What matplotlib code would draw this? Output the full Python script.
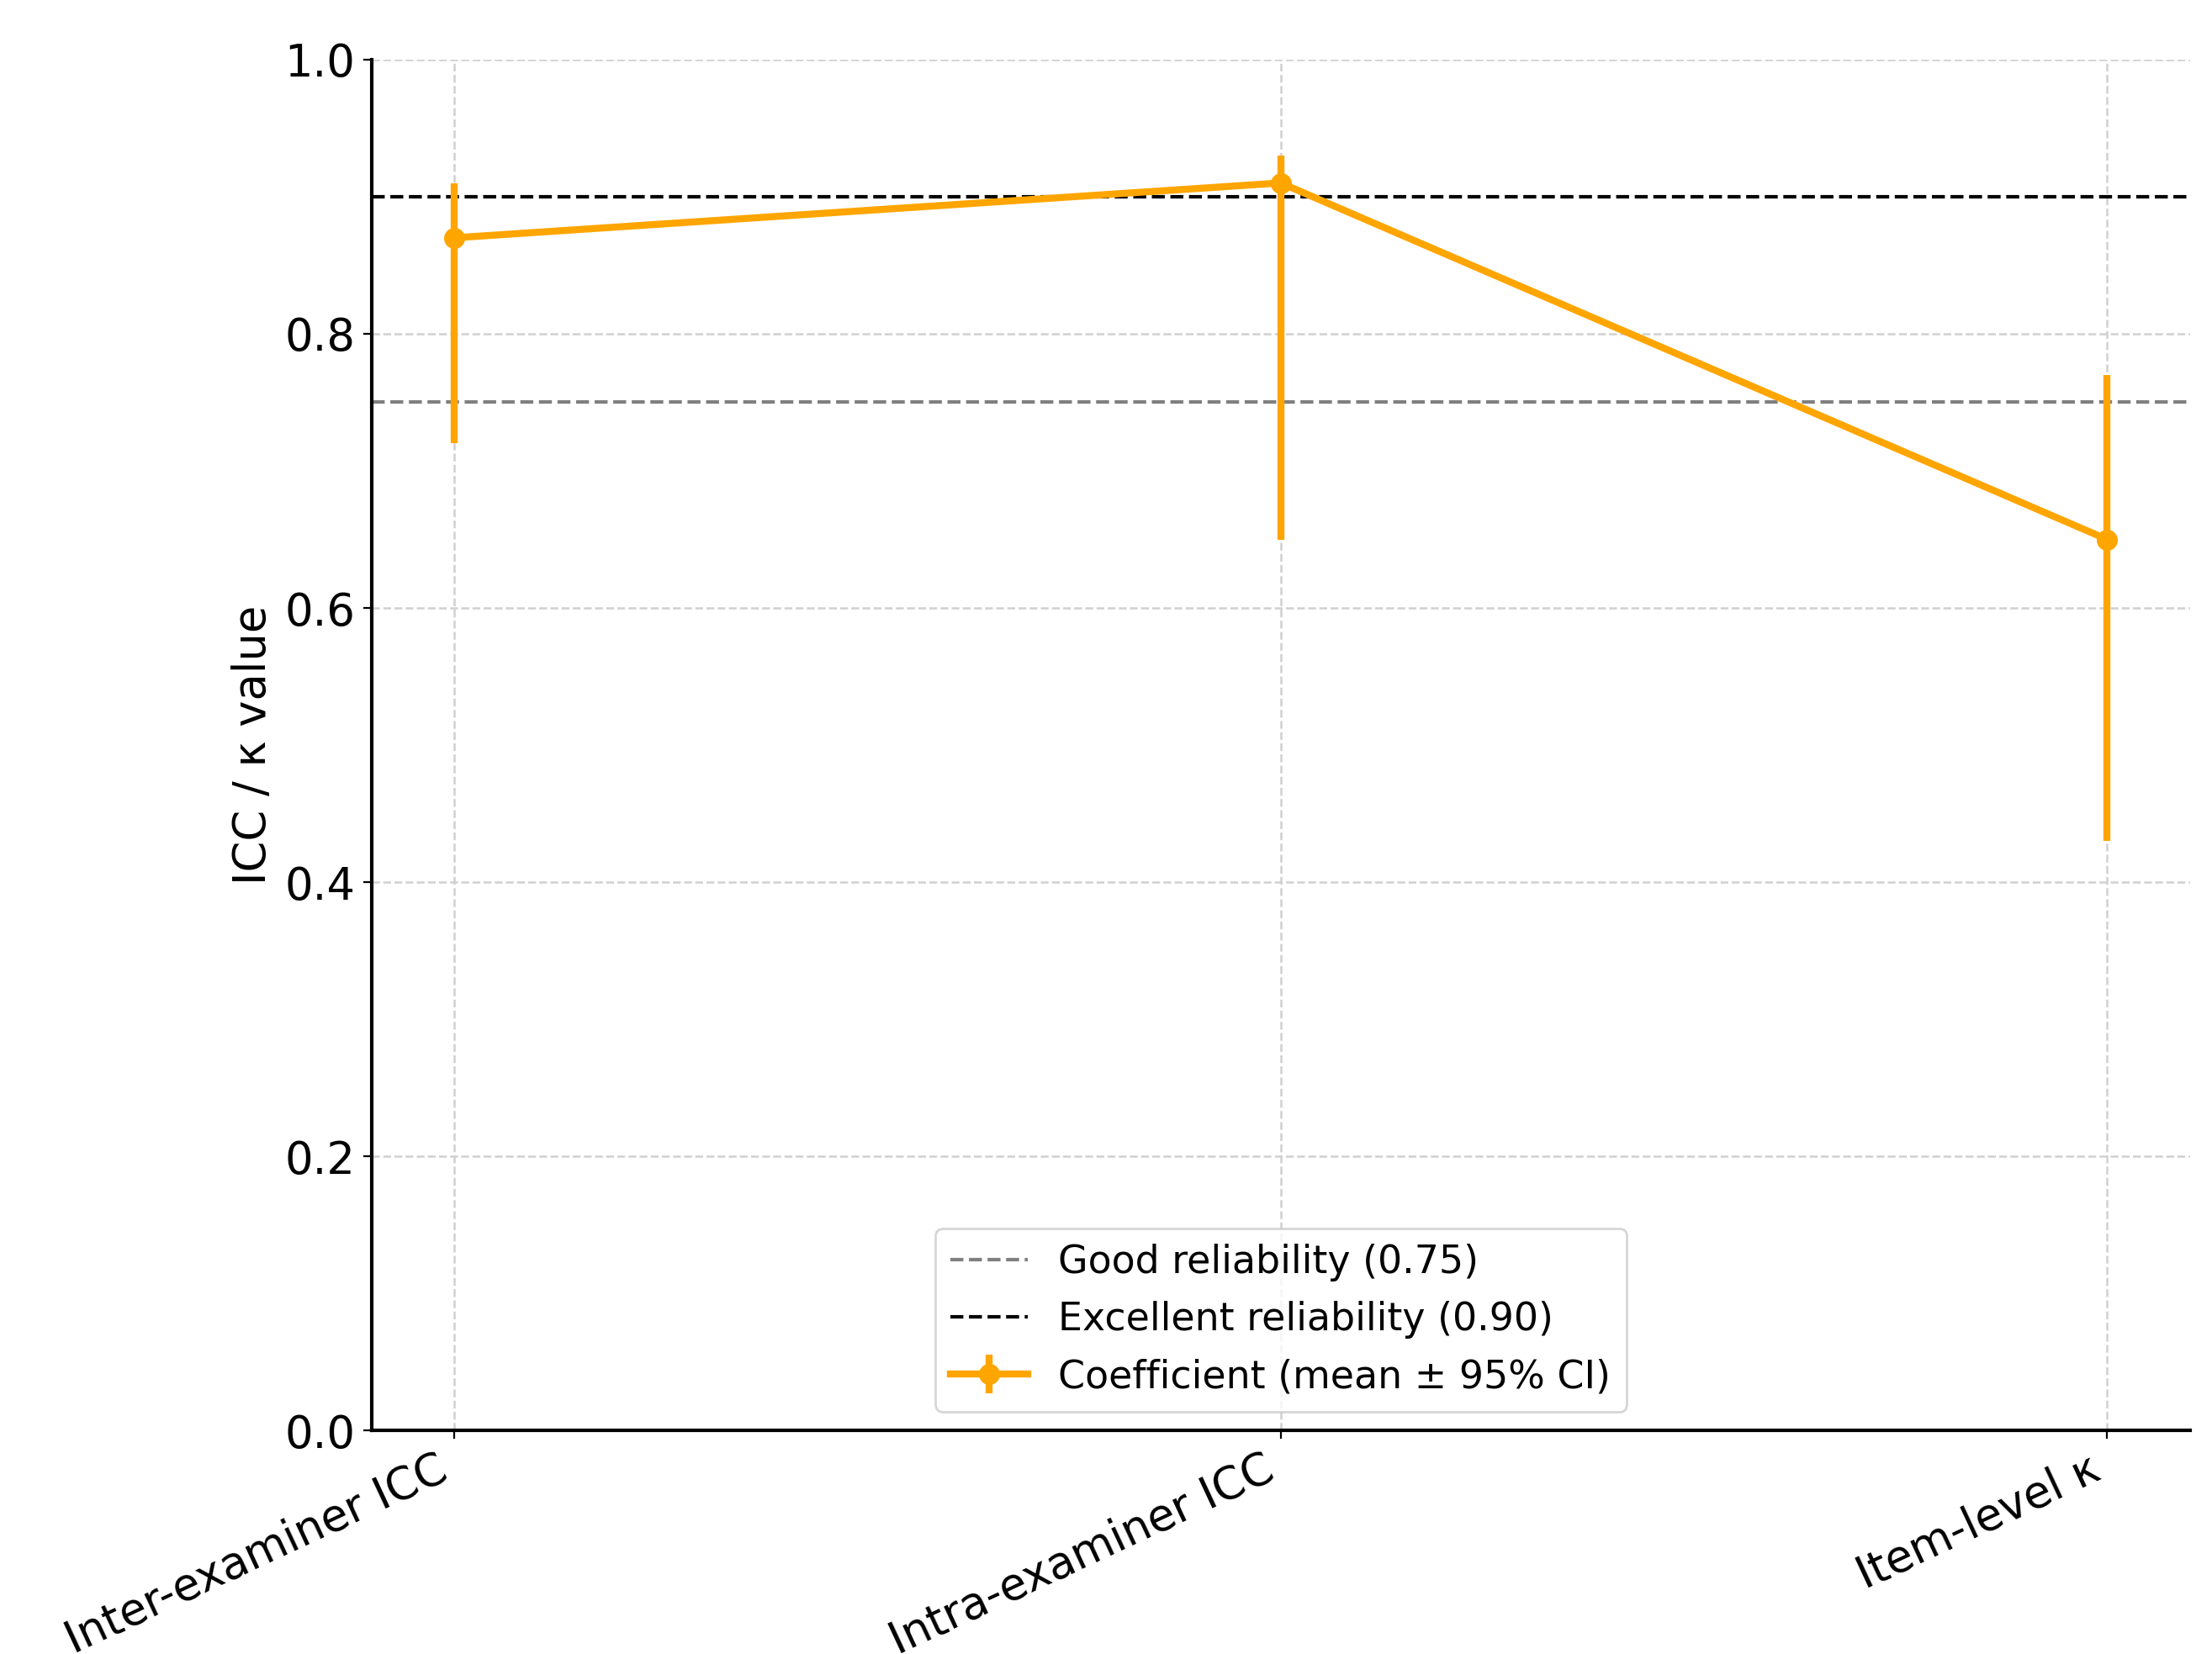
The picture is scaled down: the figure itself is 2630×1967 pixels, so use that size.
import matplotlib.pyplot as plt
import numpy as np

categories = ["Inter-examiner ICC", "Intra-examiner ICC", "Item-level κ"]
means = [0.87, 0.91, 0.65]
ci_low = [0.72, 0.65, 0.43]
ci_high = [0.91, 0.93, 0.77]
good_level = 0.75
excellent_level = 0.90

x = np.arange(len(categories))
err = [np.array(means) - np.array(ci_low), np.array(ci_high) - np.array(means)]

fig = plt.figure(figsize=(13.15, 9.835), dpi=200)
ax = fig.add_axes([0.168, 0.135, 0.822, 0.829])

ax.axhline(good_level, color="gray", linestyle="--", linewidth=1.5, label="Good reliability (0.75)")
ax.axhline(excellent_level, color="black", linestyle="--", linewidth=1.5, label="Excellent reliability (0.90)")
ax.errorbar(x, means, yerr=err, color="#FFA500", marker="o", markersize=8,
            linewidth=3, elinewidth=3, capsize=0, label="Coefficient (mean ± 95% CI)")

ax.set_xlim(-0.1, 2.1)
ax.set_ylim(0, 1.0)
ax.set_xticks(x)
ax.set_xticklabels(categories, rotation=25, ha="right", fontsize=19)
ax.tick_params(axis="y", labelsize=19)
ax.set_ylabel("ICC / κ value", fontsize=19)
ax.grid(True, linestyle="--", color="#d0d0d0", linewidth=0.9)
ax.spines["top"].set_visible(False)
ax.spines["right"].set_visible(False)
ax.spines["left"].set_linewidth(1.5)
ax.spines["bottom"].set_linewidth(1.5)
ax.legend(loc="lower center", fontsize=16.5)

fig.savefig("out.png")
